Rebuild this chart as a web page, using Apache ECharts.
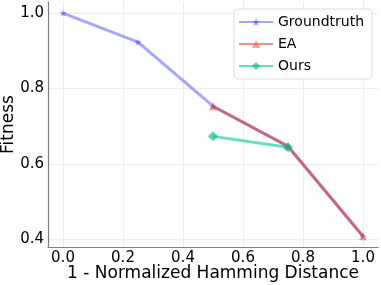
<!DOCTYPE html>
<html><head><meta charset="utf-8">
<script src="https://cdn.jsdelivr.net/npm/echarts@6/dist/echarts.min.js"></script>
<style>html,body{margin:0;padding:0;background:#fff}#c{width:381px;height:285px}</style>
</head><body><div id="c"></div>
<script>
const xTicks = [0, 0.2, 0.4, 0.6, 0.8, 1.0];
const yTicks = [0.4, 0.6, 0.8, 1.0];
const gtX = [0, 0.25, 0.5, 0.75, 1.0];
const gtY = [1.0, 0.923, 0.753, 0.646, 0.408];
const eaX = [0.5, 0.75, 1.0];
const eaY = [0.753, 0.647, 0.408];
const oursX = [0.5, 0.75];
const oursY = [0.673, 0.644];

const star = 'path://M50,0 L61,35 L98,35 L68,57 L79,91 L50,70 L21,91 L32,57 L2,35 L39,35 Z';
const font = 'DejaVu Sans';
const pts = (xs, ys) => xs.map((x, i) => [x, ys[i]]);

const chart = echarts.init(document.getElementById('c'));
chart.setOption({
  animation: false,
  textStyle: {fontFamily: font},
  grid: {left: 48, right: 3, top: 2, bottom: 38, containLabel: false, outerBoundsMode: 'none'},
  legend: {
    orient: 'vertical', right: 9, top: 9,
    backgroundColor: '#fff', borderColor: '#dddddd', borderWidth: 1, borderRadius: 4,
    padding: [6, 8, 6, 4], itemGap: 8, itemWidth: 34, itemHeight: 10,
    textStyle: {fontFamily: font, fontSize: 14, color: '#000'},
    data: ['Groundtruth', 'EA', 'Ours']
  },
  xAxis: {
    type: 'value', min: -0.05, max: 1.05,
    name: '1 - Normalized Hamming Distance', nameLocation: 'middle', nameGap: 18, nameMoveOverlap: false,
    nameTextStyle: {fontFamily: font, fontSize: 17, color: '#000'},
    axisLine: {show: true, onZero: false, lineStyle: {color: '#808080', width: 1.2}},
    axisTick: {show: false, customValues: xTicks},
    axisLabel: {customValues: xTicks, fontFamily: font, fontSize: 15, color: '#000', margin: 4, formatter: v => v.toFixed(1)},
    splitLine: {show: true, lineStyle: {color: '#ececec', width: 1}}
  },
  yAxis: {
    type: 'value', min: 0.3795, max: 1.0295,
    name: 'Fitness', nameLocation: 'middle', nameGap: 31, nameMoveOverlap: false,
    nameTextStyle: {fontFamily: font, fontSize: 17, color: '#000'},
    axisLine: {show: true, onZero: false, lineStyle: {color: '#808080', width: 1.2}},
    axisTick: {show: false, customValues: yTicks},
    axisLabel: {customValues: yTicks, fontFamily: font, fontSize: 15, color: '#000', margin: 4, formatter: v => v.toFixed(1)},
    splitLine: {show: true, lineStyle: {color: '#ececec', width: 1}}
  },
  series: [
    {name: 'Groundtruth', type: 'line', data: pts(gtX, gtY), symbol: star, symbolSize: 7,
     color: 'rgba(60,60,255,0.45)', lineStyle: {width: 3, color: 'rgba(60,60,255,0.45)'},
     itemStyle: {color: 'rgba(60,60,255,0.55)'}},
    {name: 'EA', type: 'line', data: pts(eaX, eaY), symbol: 'triangle', symbolSize: 8,
     color: 'rgba(230,40,20,0.5)', lineStyle: {width: 3, color: 'rgba(230,40,20,0.5)'},
     itemStyle: {color: 'rgba(240,70,50,0.5)'}},
    {name: 'Ours', type: 'line', data: pts(oursX, oursY), symbol: 'diamond', symbolSize: 10,
     color: 'rgba(0,200,140,0.6)', lineStyle: {width: 3, color: 'rgba(0,200,140,0.6)'},
     itemStyle: {color: 'rgba(0,190,140,0.65)'}}
  ]
});
</script></body></html>
